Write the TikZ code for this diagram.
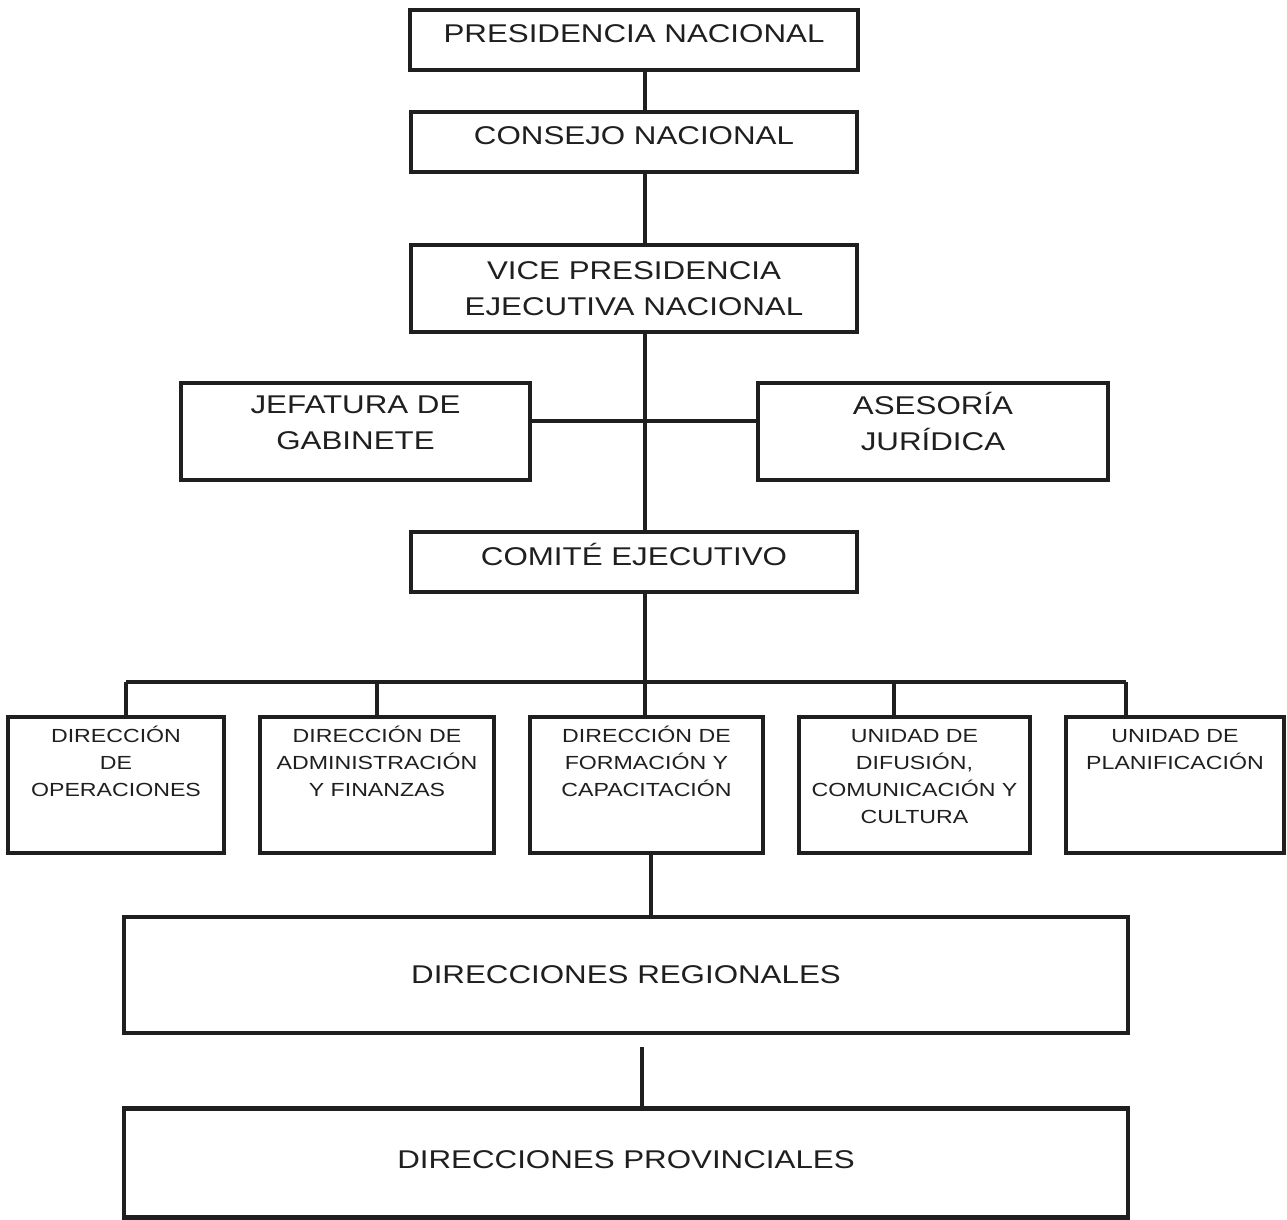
\documentclass[tikz,border=0pt]{standalone}
\usepackage{fontspec}
\setmainfont{Liberation Sans}[FakeStretch=1.22]
\usepackage{xcolor}
\usetikzlibrary{positioning}

\definecolor{ink}{rgb}{0.12,0.12,0.12}
\newcommand{\dirtext}[2]{\parbox[c][2.72cm][t]{#1}{\centering\rule{0pt}{0.5cm}#2}}

\begin{document}
\begin{tikzpicture}[line join=miter,
                unit node/.style={draw=ink, line width=2.8pt, text=ink, align=center,
                                  inner sep=0pt, outer sep=0pt,
                                  font=\fontsize{14.6}{20.4}\selectfont},
                dir node/.style={draw=ink, line width=2.8pt, text=ink, inner sep=0pt,
                                 outer sep=0pt, font=\fontsize{10.8}{15.5}\selectfont},
                link/.style={draw=ink, line width=2.6pt}]

      \useasboundingbox (0,0) rectangle (25.74,-24.4);

      % main column
      \node[unit node, minimum width=8.96cm, minimum height=1.2cm, text depth=0.24cm] (pres) at (12.68,-0.8) {PRESIDENCIA NACIONAL};
      \node[unit node, minimum width=8.92cm, minimum height=1.2cm, text depth=0.24cm] (cons) [below=0.84cm of pres] {CONSEJO NACIONAL};
      \node[unit node, minimum width=8.92cm, minimum height=1.74cm] (vice) [below=1.46cm of cons] {VICE PRESIDENCIA\\EJECUTIVA NACIONAL};
      \node[unit node, minimum width=6.98cm, minimum height=1.94cm, text depth=0.36cm] (jef) at (7.11,-8.63) {JEFATURA DE\\GABINETE};
      \node[unit node, minimum width=7.0cm, minimum height=1.94cm, text depth=0.4cm] (ases) at (18.66,-8.63) {ASESORÍA\\JURÍDICA};
      \node[unit node, minimum width=8.92cm, minimum height=1.2cm, text depth=0.3cm] (comite) [below=4.0cm of vice] {COMITÉ EJECUTIVO};

      % direcciones
      \node[dir node, minimum width=4.32cm, anchor=north west] (d1) at (0.16,-14.34) {\dirtext{4.2cm}{DIRECCIÓN\\DE\\OPERACIONES}};
      \node[dir node, minimum width=4.68cm] (d2) [right=0.72cm of d1] {\dirtext{4.5cm}{DIRECCIÓN DE\\ADMINISTRACIÓN\\Y FINANZAS}};
      \node[dir node, minimum width=4.66cm] (d3) [right=0.72cm of d2] {\dirtext{4.5cm}{DIRECCIÓN DE\\FORMACIÓN Y\\CAPACITACIÓN}};
      \node[dir node, minimum width=4.62cm] (d4) [right=0.72cm of d3] {\dirtext{4.5cm}{UNIDAD DE\\DIFUSIÓN,\\COMUNICACIÓN Y\\CULTURA}};
      \node[dir node, minimum width=4.36cm] (d5) [right=0.72cm of d4] {\dirtext{4.3cm}{UNIDAD DE\\PLANIFICACIÓN}};

      \node[unit node, minimum width=20.08cm, minimum height=2.32cm] (reg) at (12.52,-19.5) {DIRECCIONES REGIONALES};
      \node[unit node, minimum width=20.08cm, minimum height=2.18cm, text depth=0.12cm] (prov) at (12.52,-23.26) {DIRECCIONES PROVINCIALES};

      \coordinate (spine) at (12.9,0);
      \coordinate (busL) at (2.52,-13.64);
      \coordinate (busR) at (22.52,-13.64);
      \coordinate (busD) at (17.88,-13.64);

      \draw[link] (pres.south -| spine) -- (cons.north -| spine);
      \draw[link] (cons.south -| spine) -- (vice.north -| spine);
      \draw[link] (vice.south -| spine) -- (comite.north -| spine);
      \draw[link] ([yshift=0.21cm]jef.east) -- ([yshift=0.21cm]ases.west);
      \draw[link] (comite.south -| spine) -- (d3.north -| spine);
      \draw[link] (busL) -- (busR);
      \draw[link] (busL) -- (busL |- d1.north);
      \draw[link] (d2.north |- busL) -- (d2.north);
      \draw[link] (busD) -- (busD |- d4.north);
      \draw[link] (busR) -- (busR |- d5.north);
      \draw[link] ([xshift=0.09cm]d3.south) -- ([xshift=0.09cm]d3.south |- reg.north);
      \draw[link, shorten <=0.28cm] ([xshift=0.32cm]reg.south) -- ([xshift=0.32cm]reg.south |- prov.north);
  \end{tikzpicture}
\end{document}
